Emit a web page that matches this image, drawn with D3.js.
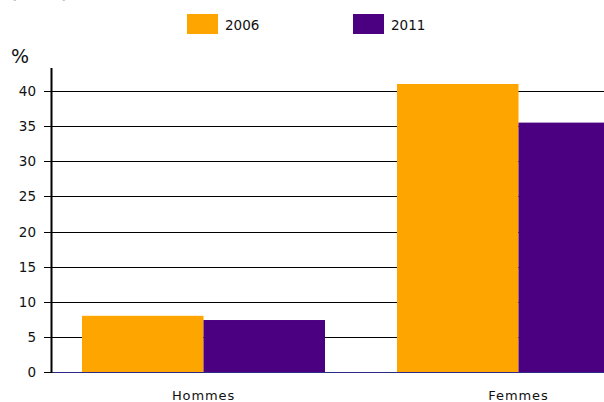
<html lang='fr'>
    <head>
        <script src="https://d3js.org/d3.v7.min.js" charset="utf-8"></script>
        <style>
          body { margin: 0; background: white; }
          text { font-family: "DejaVu Sans", Verdana, sans-serif; fill: #111; }
        </style>
    </head>
    <body>
        <script>
            // data
            var categories = ["Hommes", "Femmes"]
            var years = ["2006", "2011"]
            var values2006 = [8.0, 41.0]
            var values2011 = [7.4, 35.5]
            var yTicks = [0, 5, 10, 15, 20, 25, 30, 35, 40]
            var colors = ["#FFA500", "#4B0082"]

            var width = 604
            var height = 402

            var svg = d3.select("body")
                        .append("svg")
                        .attr("width", width)
                        .attr("height", height)

            // title, mostly above the visible area
            svg.append("text")
               .attr("x", 10)
               .attr("y", -2)
               .attr("font-size", "16px")
               .attr("font-weight", "bold")
               .text("(en %)")

            var y = d3.scaleLinear()
                .domain([0, 40])
                .range([372, 91])

            var x = d3.scaleBand()
                .domain(categories)
                .range([51, 671])
                .paddingInner(0.2286)
                .paddingOuter(0.0984)

            var xInner = d3.scaleBand()
                .domain(years)
                .range([0, x.bandwidth()])

            // gridlines + ticks
            svg.selectAll(".grid")
               .data(yTicks.filter(function(d) { return d > 0 }))
               .enter().append("line")
               .attr("x1", 44)
               .attr("x2", width)
               .attr("y1", function(d) { return Math.round(y(d)) + 0.5 })
               .attr("y2", function(d) { return Math.round(y(d)) + 0.5 })
               .attr("stroke", "#000")
               .attr("stroke-width", 1)

            svg.selectAll(".ylab")
               .data(yTicks)
               .enter().append("text")
               .attr("x", 36)
               .attr("y", function(d) { return y(d) + 5 })
               .attr("text-anchor", "end")
               .attr("font-size", "13.5px")
               .text(function(d) { return d })

            // zero tick
            svg.append("line")
               .attr("x1", 44).attr("x2", 51)
               .attr("y1", 372.5).attr("y2", 372.5)
               .attr("stroke", "#000")

            // baseline
            svg.append("line")
               .attr("x1", 51).attr("x2", width)
               .attr("y1", 372.5).attr("y2", 372.5)
               .attr("stroke", "#2b2b86")
               .attr("stroke-width", 1)

            // bars
            var series = [values2006, values2011]
            series.forEach(function(vals, si) {
              svg.selectAll(".bar" + si)
                 .data(vals)
                 .enter().append("rect")
                 .attr("x", function(d, i) { return x(categories[i]) + xInner(years[si]) })
                 .attr("width", xInner.bandwidth())
                 .attr("y", function(d) { return y(d) })
                 .attr("height", function(d) { return y(0) - y(d) })
                 .attr("fill", colors[si])
            })

            // y axis line
            svg.append("line")
               .attr("x1", 51.5).attr("x2", 51.5)
               .attr("y1", 68).attr("y2", 373)
               .attr("stroke", "#000")
               .attr("stroke-width", 2)

            svg.append("text")
               .attr("x", 11)
               .attr("y", 63)
               .attr("font-size", "19px")
               .text("%")

            // category labels
            svg.selectAll(".xlab")
               .data(categories)
               .enter().append("text")
               .attr("x", function(d) { return x(d) + x.bandwidth() / 2 })
               .attr("y", 400)
               .attr("text-anchor", "middle")
               .attr("font-size", "13px")
               .attr("letter-spacing", "0.9px")
               .text(function(d) { return d })

            // legend
            var legendX = [187, 353]
            years.forEach(function(yr, i) {
              svg.append("rect")
                 .attr("x", legendX[i]).attr("y", 14)
                 .attr("width", 31).attr("height", 20)
                 .attr("fill", colors[i])
              svg.append("text")
                 .attr("x", legendX[i] + 38)
                 .attr("y", 30)
                 .attr("font-size", "13.5px")
                 .text(yr)
            })
        </script>
    </body>
</html>
